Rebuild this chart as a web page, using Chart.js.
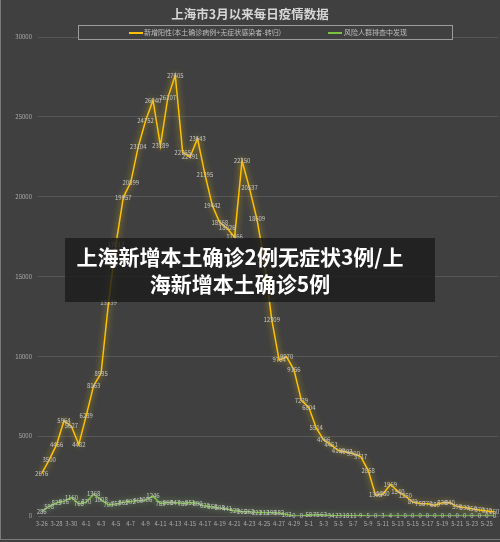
<!DOCTYPE html>
<html>
<head>
<meta charset="utf-8">
<script src="https://cdn.jsdelivr.net/npm/chart.js@4.4.1/dist/chart.umd.min.js"></script>
<style>
  body { margin: 0; background: #404040; }
  #wrap { position: relative; width: 500px; height: 542px; font-family: "Noto Sans CJK SC", sans-serif; }
  #frame { position: absolute; left: 0; top: 0; width: 499px; height: 539px; border-left: 1px solid #7a7a7a; border-bottom: 1px solid #7a7a7a; pointer-events: none; }
  .title { position: absolute; left: 0; width: 500px; top: 4px; text-align: center; color: #d6d6d6; font-size: 12.5px; font-weight: bold; }
  .legend { position: absolute; left: 78px; top: 25px; width: 375px; height: 15px; box-sizing: border-box; border: 1px solid #9c9c9c; background: #404040; }
  .legend span { position: absolute; top: 2px; font-size: 7px; line-height: 9px; color: #bdbdbd; white-space: nowrap; }
  .legend i { position: absolute; top: 6px; width: 14px; height: 1.5px; }
  .banner { position: absolute; left: 65px; top: 238px; width: 370px; height: 64px; box-sizing: border-box; padding: 5px 20px 0 0; background: rgba(28, 28, 28, 0.82); color: #fff; font-size: 21px; font-weight: bold; line-height: 27px; text-align: center; }
</style>
</head>
<body>
<div id="wrap">
  <canvas id="chart" width="500" height="542"></canvas>
  <div class="title">上海市3月以来每日疫情数据</div>
  <div class="legend">
    <i style="left:50px;background:#ffc000"></i><span style="left:65px">新增阳性(本土确诊病例+无症状感染者-转归)</span>
    <i style="left:249px;background:#7cc242"></i><span style="left:265px">风险人群排查中发现</span>
  </div>
  <div class="banner">上海新增本土确诊2例无症状3例/上<br>海新增本土确诊5例</div>
  <div id="frame"></div>
</div>
<script>
// 日期 (3-26 ~ 5-26)
const dates = [
  '3-26', '3-27', '3-28', '3-29', '3-30', '3-31',
  '4-1', '4-2', '4-3', '4-4', '4-5', '4-6', '4-7', '4-8', '4-9', '4-10',
  '4-11', '4-12', '4-13', '4-14', '4-15', '4-16', '4-17', '4-18', '4-19', '4-20',
  '4-21', '4-22', '4-23', '4-24', '4-25', '4-26', '4-27', '4-28', '4-29', '4-30',
  '5-1', '5-2', '5-3', '5-4', '5-5', '5-6', '5-7', '5-8', '5-9', '5-10',
  '5-11', '5-12', '5-13', '5-14', '5-15', '5-16', '5-17', '5-18', '5-19', '5-20',
  '5-21', '5-22', '5-23', '5-24', '5-25', '5-26'
];

// 新增阳性(本土确诊病例+无症状感染者-转归)
const newPositive = [
  2676, 3500, 4466, 5964, 5627, 4482,
  6289, 8163, 8935, 13339, 17013, 19957, 20899, 23104, 24752, 26040,
  23189, 26207, 27605, 22765, 22491, 23643, 21395, 19442, 18368, 18026,
  17466, 22250, 20537, 18609, 15977, 12309, 9764, 9970, 9156, 7239,
  6804, 5514, 4766, 4451, 4100, 4003, 3900, 3717, 2858, 1305,
  1380, 1969, 1540, 1250, 870, 780, 770, 680, 830, 840,
  590, 530, 450, 370, 320, 250
];

// 风险人群排查中发现
const riskScreening = [
  286, 598, 825, 916, 1160, 768,
  870, 1368, 1008, 700, 757, 862, 902, 963, 1006, 1246,
  783, 860, 847, 780, 851, 800, 620, 558, 508, 441,
  329, 265, 262, 221, 212, 198, 182, 102, 0, 0,
  58, 75, 63, 34, 23, 18, 11, 9, 5, 0,
  3, 4, 1, 0, 0, 0, 0, 0, 0, 0,
  0, 0, 0, 0, 0, 0
];

const yTicks = [0, 5000, 10000, 15000, 20000, 25000, 30000];

const glowColors = ['rgba(255, 210, 0, 0.8)', 'rgba(140, 225, 90, 0.75)'];

// 线条发光效果
const glow = {
  id: 'glow',
  beforeDatasetDraw(chart, args) {
    const ctx = chart.ctx;
    ctx.save();
    ctx.shadowColor = glowColors[args.index];
    ctx.shadowBlur = 6;
  },
  afterDatasetDraw(chart) {
    chart.ctx.restore();
  }
};

// 每个点上的数值标签
const pointLabels = {
  id: 'pointLabels',
  afterDatasetsDraw(chart) {
    const ctx = chart.ctx;
    ctx.save();
    ctx.font = '6px "Noto Sans CJK SC"';
    ctx.fillStyle = '#c4c4c4';
    ctx.textAlign = 'center';
    ctx.textBaseline = 'middle';
    chart.data.datasets.forEach((ds, i) => {
      chart.getDatasetMeta(i).data.forEach((pt, j) => {
        ctx.fillText(ds.data[j], pt.x, pt.y);
      });
    });
    ctx.restore();
  }
};

const ctx = document.getElementById('chart');

new Chart(ctx, {
  type: 'line',
  data: {
    labels: dates,
    datasets: [{
      label: '新增阳性(本土确诊病例+无症状感染者-转归)',
      data: newPositive,
      borderColor: '#ffc000',
      borderWidth: 1.5,
      pointRadius: 0,
      tension: 0
    }, {
      label: '风险人群排查中发现',
      data: riskScreening,
      borderColor: '#7cc242',
      borderWidth: 1.5,
      pointRadius: 0,
      tension: 0
    }]
  },
  options: {
    responsive: false,
    animation: false,
    layout: { padding: { top: 37, right: 2, left: 0, bottom: 0 } },
    plugins: {
      legend: { display: false },
      title: { display: false },
      tooltip: { enabled: false }
    },
    scales: {
      x: {
        offset: true,
        grid: { display: false, drawTicks: false },
        border: { display: false },
        ticks: {
          autoSkip: false,
          maxRotation: 0,
          padding: 4,
          color: '#aaaaaa',
          font: { size: 6, family: '"Noto Sans CJK SC"' },
          callback: (v, i) => (i % 2 === 0 ? dates[i] : '')
        },
        afterFit: (scale) => { scale.height = 26; }
      },
      y: {
        min: 0,
        max: 30000,
        grid: { color: '#575757', lineWidth: 1, drawTicks: false },
        border: { display: false },
        ticks: {
          padding: 6,
          color: '#aaaaaa',
          font: { size: 6, family: '"Noto Sans CJK SC"' },
          callback: (v) => String(v)
        },
        afterBuildTicks: (scale) => { scale.ticks = yTicks.map(v => ({ value: v })); },
        afterFit: (scale) => { scale.width = 38; }
      }
    }
  },
  plugins: [glow, pointLabels]
});
</script>
</body>
</html>
